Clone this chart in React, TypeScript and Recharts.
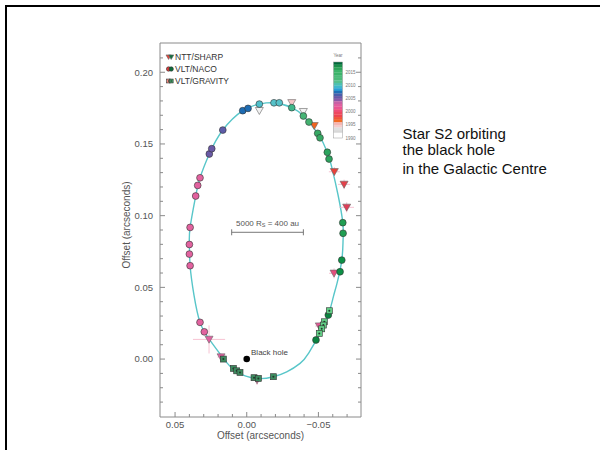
import { ComposedChart, Line, Scatter, XAxis, YAxis, ErrorBar, ReferenceDot, ReferenceLine } from 'recharts';

const FONT = '"Liberation Sans", Arial, Helvetica, sans-serif';
const AXIS = '#8a8a8a';
const TEXT = '#555';
const ORBIT_COLOR = '#58c6c9';
const ERR_COLOR = '#f5b4c8';

// orbit trace (offset in arcsec; x is reversed on the plot)
const ORBIT_X = [
  -0.0088, -0.0197, -0.0314, -0.0395, -0.0495, -0.0562, -0.0598, -0.0637, -0.067, -0.0672,
  -0.0663, -0.063, -0.0604, -0.0569, -0.0511, -0.0432, -0.0372, -0.0279, -0.0186, -0.007,
  0.007, 0.0163, 0.0261, 0.0326, 0.0368, 0.0395, 0.04, 0.0395, 0.0356, 0.0326,
  0.0261, 0.0167, 0.0028, -0.0088, -0.0197, -0.0314,
];
const ORBIT_Y = [
  0.1778, 0.1787, 0.1753, 0.1695, 0.1574, 0.1442, 0.1318, 0.1144, 0.0951, 0.083,
  0.069, 0.053, 0.0434, 0.0307, 0.0179, 0.0042, -0.003, -0.0089, -0.0123, -0.0135,
  -0.0089, 0.0005, 0.0137, 0.0256, 0.0446, 0.0651, 0.0797, 0.0918, 0.1137, 0.1264,
  0.143, 0.1597, 0.1732, 0.1778, 0.1787, 0.1753,
];

// NTT/SHARP
const SHARP_X = [-0.0088, -0.0314, -0.0395, -0.0471, -0.0611, -0.0679, -0.0697, -0.0609, -0.0506, 0.0263, -0.0072, 0.0179];
const SHARP_Y = [0.1732, 0.1787, 0.1725, 0.1627, 0.1306, 0.1218, 0.1058, 0.0598, 0.023, 0.0137, -0.0146, 0.0014];
const SHARP_EX = [0, 0, 0, 0.002, 0.0038, 0.0042, 0.0051, 0.0035, 0.0028, 0.0112, 0.0035, 0.0025];
const SHARP_EY = [0, 0, 0, 0.002, 0.0033, 0.0033, 0.0035, 0.0035, 0.0025, 0.0098, 0.0035, 0.0025];
const SHARP_COLOR = ['#f2f2f2', '#f6c6c8', '#f2f2f2', '#f06420', '#e8413a', '#e4404a', '#e03e58', '#e44e7c', '#e05a94', '#e060a0', '#e060a0', '#e060a0'];

// VLT/NACO
const NACO_X = [
  0.0326, 0.0296, 0.0395, 0.04, 0.04, 0.0395, 0.0356, 0.0342, 0.0326,
  0.0261, 0.0244, 0.0167, 0.0028, -0.0009, -0.0088, -0.019, -0.0227,
  -0.0314, -0.0395, -0.0434, -0.0495, -0.0511, -0.0562, -0.0574,
  -0.067, -0.0672, -0.0663, -0.0651, -0.0569, -0.0483,
];
const NACO_Y = [
  0.0256, 0.019, 0.0651, 0.0732, 0.0799, 0.0918, 0.1137, 0.1211, 0.1264,
  0.143, 0.1467, 0.1597, 0.1732, 0.1748, 0.1778, 0.1787, 0.1787,
  0.1753, 0.1695, 0.1653, 0.1574, 0.1543, 0.1442, 0.1395,
  0.0951, 0.0877, 0.069, 0.0609, 0.0307, 0.0133,
];
const NACO_COLOR = [
  '#e2629f', '#e2629f', '#e2629f', '#e2629f', '#e2629f', '#e2629f', '#e2629f', '#e2629f', '#e2629f',
  '#6a5aa6', '#6a5aa6', '#5d5ca8', '#1e6cb3', '#1e6cb3', '#4fbfcb', '#56c2c9', '#56c2c9',
  '#40b78a', '#45b475', '#43b270', '#36a964', '#36a964', '#2ca45e', '#2ca45e',
  '#1f9e52', '#1f9e52', '#0c9046', '#0c9046', '#0a8440', '#0a8440',
];

// VLT/GRAVITY
const GRAVITY_X = [-0.0576, -0.0541, -0.0534, -0.0523, -0.0506, 0.0163, 0.0093, 0.007, 0.0047, -0.0051, -0.0081, -0.0186];
const GRAVITY_Y = [0.0337, 0.026, 0.0237, 0.0211, 0.0179, 0.0, -0.0065, -0.0082, -0.0093, -0.013, -0.0135, -0.0123];
const GRAVITY_COLOR = ['#62cf86', '#62cf86', '#62cf86', '#62cf86', '#62cf86', '#3d8b5f', '#3d8b5f', '#3d8b5f', '#3d8b5f', '#3d8b5f', '#3d8b5f', '#3d8b5f'];

const X_DOMAIN: [number, number] = [-0.0797, 0.0605];
const Y_DOMAIN: [number, number] = [-0.0404, 0.2204];
const X_TICKS = [0.05, 0.04, 0.03, 0.02, 0.01, 0, -0.01, -0.02, -0.03, -0.04, -0.05, -0.06, -0.07];
const Y_TICKS = [-0.03, -0.02, -0.01, 0, 0.01, 0.02, 0.03, 0.04, 0.05, 0.06, 0.07, 0.08, 0.09, 0.1, 0.11, 0.12, 0.13, 0.14, 0.15, 0.16, 0.17, 0.18, 0.19, 0.2, 0.21];

// colour bar, top (2018) to bottom (1990)
const YEAR_COLORS = [
  '#00683a', '#1a8f4a', '#2ea35a', '#3cb46a', '#3cb46a', '#4cbb7a', '#4cbb7a', '#55c08e', '#4ec0b0',
  '#3fb8cc', '#2a9fd6', '#1f6fb6', '#4a5fab', '#6a58a6', '#8a5aa8', '#c861a6', '#e05fa0', '#ea5592',
  '#ee4d78', '#ee4860', '#ee4450', '#f0553a', '#f26a22', '#f5b5b0', '#f5cccc', '#e0e0e0', '#d8d8d8',
  '#ffffff', '#ffffff',
];
const YEAR_LABELS = [2015, 2010, 2005, 2000, 1995, 1990];

const SCALE_BAR = { from: 0.0105, to: -0.0395, y: 0.0884 };

const orbit = ORBIT_X.map((x, i) => ({ x, y: ORBIT_Y[i] }));
const sharp = SHARP_X.map((x, i) => ({ x, y: SHARP_Y[i], ex: SHARP_EX[i], ey: SHARP_EY[i], c: SHARP_COLOR[i] }));
const naco = NACO_X.map((x, i) => ({ x, y: NACO_Y[i], c: NACO_COLOR[i] }));
const gravity = GRAVITY_X.map((x, i) => ({ x, y: GRAVITY_Y[i], c: GRAVITY_COLOR[i] }));

const isMajor = (v: number) => Math.round(v * 100) % 5 === 0;
const fmt = (v: number) => {
  if (Math.round(v * 100) === 0) return '0.00';
  const s = Math.abs(v).toFixed(2);
  return v < 0 ? '\u2212' + s : s;
};

type MarkProps = { cx: number; cy: number; c: string; k?: number };

function Tri({ cx, cy, c, k = 1 }: MarkProps) {
  return (
    <polygon
      points={`${cx - 4 * k},${cy - 3.2 * k} ${cx + 4 * k},${cy - 3.2 * k} ${cx},${cy + 3.8 * k}`}
      fill={c}
      stroke="#666"
      strokeWidth={0.6}
    />
  );
}
function Circ({ cx, cy, c, k = 1 }: MarkProps) {
  return <circle cx={cx} cy={cy} r={3.4 * k} fill={c} stroke="#333" strokeWidth={0.6} />;
}
function Sq({ cx, cy, c, k = 1 }: MarkProps) {
  return (
    <g>
      <rect x={cx - 3 * k} y={cy - 3 * k} width={6 * k} height={6 * k} fill={c} stroke="#333" strokeWidth={0.6} />
      <circle cx={cx} cy={cy} r={1 * k} fill="#1f3a2a" />
    </g>
  );
}

const BottomTick = ({ x, y, payload }: any) => {
  const major = isMajor(payload.value);
  return (
    <g>
      <line x1={x} x2={x} y1={y} y2={y - (major ? 5 : 3)} stroke={AXIS} />
      {major && (
        <text x={x} y={y + 10.5} textAnchor="middle" fontSize={9.5} fill={TEXT} fontFamily={FONT}>
          {fmt(payload.value)}
        </text>
      )}
    </g>
  );
};
const TopTick = ({ x, y, payload }: any) => (
  <line x1={x} x2={x} y1={y} y2={y + (isMajor(payload.value) ? 5 : 3)} stroke={AXIS} />
);
const LeftTick = ({ x, y, payload }: any) => {
  const major = isMajor(payload.value);
  return (
    <g>
      <line x1={x} x2={x + (major ? 5 : 3)} y1={y} y2={y} stroke={AXIS} />
      {major && (
        <text x={x - 7} y={y + 3.4} textAnchor="end" fontSize={9.5} fill={TEXT} fontFamily={FONT}>
          {fmt(payload.value)}
        </text>
      )}
    </g>
  );
};
const RightTick = ({ x, y, payload }: any) => (
  <line x1={x} x2={x - (isMajor(payload.value) ? 5 : 3)} y1={y} y2={y} stroke={AXIS} />
);

const renderXTitle = ({ viewBox }: any) => (
  <text x={viewBox.x + viewBox.width / 2} y={viewBox.y + 21.5} textAnchor="middle" fontSize={10} fill={TEXT} fontFamily={FONT}>
    Offset (arcseconds)
  </text>
);
const renderYTitle = ({ viewBox }: any) => {
  const cx = viewBox.x + viewBox.width - 30;
  const cy = viewBox.y + viewBox.height / 2 - 5;
  return (
    <text x={cx} y={cy} transform={`rotate(-90 ${cx} ${cy})`} textAnchor="middle" fontSize={10} fill={TEXT} fontFamily={FONT}>
      Offset (arcseconds)
    </text>
  );
};

const ScaleBar = ({ x1, y1, x2, y2 }: any) => (
  <g>
    <line x1={x1} y1={y1} x2={x2} y2={y2} stroke="#777" strokeWidth={1} />
    <line x1={x1} x2={x1} y1={y1 - 3} y2={y1 + 3} stroke="#777" strokeWidth={1} />
    <line x1={x2} x2={x2} y1={y2 - 3} y2={y2 + 3} stroke="#777" strokeWidth={1} />
    <text x={(x1 + x2) / 2} y={y1 - 6.3} textAnchor="middle" fontSize={8} fill="#555" fontFamily={FONT}>
      5000 R<tspan fontSize={5.5} dy={1.5}>S</tspan>
      <tspan dy={-1.5}> = 400 au</tspan>
    </text>
  </g>
);

const LEGEND = [
  { label: 'NTT/SHARP', kind: 'tri', a: '#e8453c', b: '#11703f' },
  { label: 'VLT/NACO', kind: 'circ', a: '#e03c3c', b: '#0d6b3a' },
  { label: 'VLT/GRAVITY', kind: 'sq', a: '#f08a80', b: '#47a06a' },
];

export default function App() {
  const barTop = 62;
  const barH = 76;
  const seg = barH / YEAR_COLORS.length;
  return (
    <div style={{ position: 'absolute', left: 0, top: 0, width: 600, height: 450, overflow: 'hidden', background: '#fff' }}>
      <div
        style={{
          position: 'absolute',
          left: 5,
          top: 5,
          width: 700,
          height: 600,
          borderTop: '2.5px solid #000',
          borderLeft: '2.5px solid #000',
        }}
      />
      <div style={{ position: 'absolute', left: 0, top: 0 }}>
        <ComposedChart width={600} height={450} margin={{ top: 42, right: 238, bottom: 3, left: 120 }}>
          <XAxis
            dataKey="x"
            type="number"
            domain={X_DOMAIN}
            reversed
            allowDataOverflow
            ticks={X_TICKS}
            interval={0}
            height={30}
            tickSize={0}
            tickMargin={0}
            tickLine={false}
            tick={BottomTick}
            axisLine={{ stroke: AXIS }}
            label={renderXTitle}
          />
          <XAxis
            xAxisId="top"
            orientation="top"
            type="number"
            domain={X_DOMAIN}
            reversed
            allowDataOverflow
            ticks={X_TICKS}
            interval={0}
            height={1}
            tickSize={0}
            tickMargin={0}
            tickLine={false}
            tick={TopTick}
            axisLine={{ stroke: AXIS }}
          />
          <YAxis
            dataKey="y"
            type="number"
            domain={Y_DOMAIN}
            allowDataOverflow
            ticks={Y_TICKS}
            interval={0}
            width={40}
            tickSize={0}
            tickMargin={0}
            tickLine={false}
            tick={LeftTick}
            axisLine={{ stroke: AXIS }}
            label={renderYTitle}
          />
          <YAxis
            yAxisId="right"
            orientation="right"
            type="number"
            domain={Y_DOMAIN}
            allowDataOverflow
            ticks={Y_TICKS}
            interval={0}
            width={1}
            tickSize={0}
            tickMargin={0}
            tickLine={false}
            tick={RightTick}
            axisLine={{ stroke: AXIS }}
          />
          <ReferenceLine
            segment={[
              { x: SCALE_BAR.from, y: SCALE_BAR.y },
              { x: SCALE_BAR.to, y: SCALE_BAR.y },
            ]}
            shape={ScaleBar}
          />
          <Line
            data={orbit}
            dataKey="y"
            type="natural"
            stroke={ORBIT_COLOR}
            strokeWidth={1.4}
            dot={false}
            activeDot={false}
            isAnimationActive={false}
          />
          <Scatter
            data={sharp}
            isAnimationActive={false}
            shape={(p: any) => <Tri cx={p.cx} cy={p.cy} c={p.payload.c} />}
          >
            <ErrorBar dataKey="ex" direction="x" width={0} stroke={ERR_COLOR} strokeWidth={0.8} />
            <ErrorBar dataKey="ey" direction="y" width={0} stroke={ERR_COLOR} strokeWidth={0.8} />
          </Scatter>
          <Scatter
            data={naco}
            isAnimationActive={false}
            shape={(p: any) => <Circ cx={p.cx} cy={p.cy} c={p.payload.c} />}
          />
          <Scatter
            data={gravity}
            isAnimationActive={false}
            shape={(p: any) => <Sq cx={p.cx} cy={p.cy} c={p.payload.c} />}
          />
          <ReferenceDot
            x={0}
            y={0}
            r={3.3}
            fill="#000"
            stroke="none"
            label={{ value: 'Black hole', position: 'right', offset: 1, dy: -7, fontSize: 8, fill: '#444', fontFamily: FONT }}
          />
        </ComposedChart>
      </div>
      <svg width={600} height={450} style={{ position: 'absolute', left: 0, top: 0, pointerEvents: 'none' }}>
        {LEGEND.map((item, i) => {
          const cy = 57 + i * 12;
          const Shape = item.kind === 'tri' ? Tri : item.kind === 'circ' ? Circ : Sq;
          return (
            <g key={item.label}>
              <Shape cx={168.6} cy={cy} c={item.a} k={0.65} />
              <Shape cx={171.2} cy={cy} c={item.b} k={0.65} />
              <text x={175} y={cy + 3} fontSize={8.5} fill="#333" fontFamily={FONT}>
                {item.label}
              </text>
            </g>
          );
        })}
        <text x={338} y={57} textAnchor="middle" fontSize={4.5} fill="#777" fontFamily={FONT}>
          Year
        </text>
        {YEAR_COLORS.map((c, i) => (
          <rect key={i} x={333.5} y={barTop + i * seg} width={9} height={seg + 0.2} fill={c} />
        ))}
        <rect x={333.5} y={barTop} width={9} height={barH} fill="none" stroke="#999" strokeWidth={0.5} />
        {YEAR_LABELS.map((yr) => (
          <text key={yr} x={345.5} y={barTop + (2019 - yr) * seg + 1.5} fontSize={4.5} fill="#777" fontFamily={FONT}>
            {yr}
          </text>
        ))}
        <g fontFamily={FONT} fontSize={15} fill="#111">
          <text x={402.5} y={139}>Star S2 orbiting</text>
          <text x={402.5} y={154.5}>the black hole</text>
          <text x={402.5} y={174}>in the Galactic Centre</text>
        </g>
      </svg>
    </div>
  );
}
